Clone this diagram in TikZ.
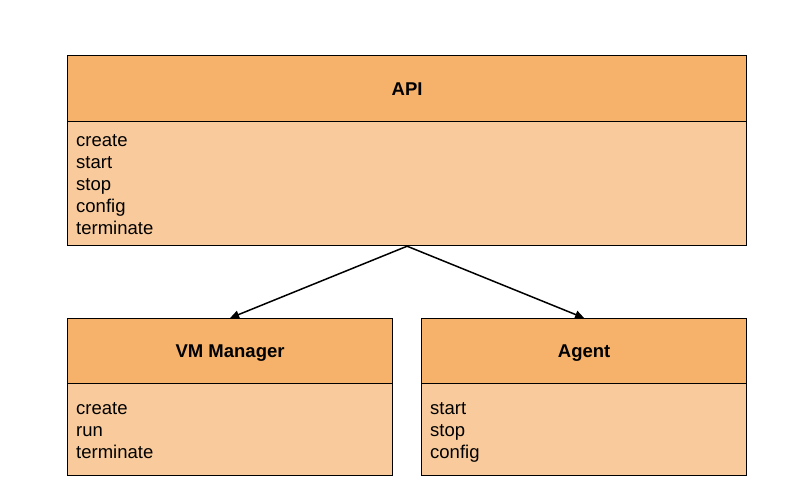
\documentclass[tikz,border=0pt]{standalone}
\usepackage{fontspec}
\setmainfont{Liberation Sans}
\usetikzlibrary{arrows.meta}
\definecolor{headfill}{HTML}{F6B26B}
\definecolor{bodyfill}{HTML}{F9CB9C}
\begin{document}
\begin{tikzpicture}[x=1pt,y=1pt,
  head/.style={draw=black, line width=1.2pt, fill=headfill, font=\fontsize{18.5}{22}\selectfont\bfseries, inner sep=0pt, text height=13.2pt, text depth=0pt},
  body/.style={draw=black, line width=1.2pt, fill=bodyfill, inner sep=0pt},
  items/.style={anchor=north west, align=left, inner sep=0pt, font=\fontsize{18.5}{22}\selectfont},
  conn/.style={line width=1.5pt, -{Triangle[length=9pt,width=8pt]}}]
\useasboundingbox (0,0) rectangle (802,-496);
% API
\node[body, minimum width=679pt, minimum height=124pt, anchor=north west] (apibody) at (67,-121) {};
\node[head, minimum width=679pt, minimum height=66pt, anchor=north west] (apihead) at (67,-55) {API};
\node[items] (apiitems) at (76,-134.5) {create\\start\\stop\\config\\terminate};
% VM Manager
\node[body, minimum width=325pt, minimum height=92pt, anchor=north west] (vmbody) at (67,-383) {};
\node[head, minimum width=325pt, minimum height=65pt, anchor=north west] (vmhead) at (67,-318) {VM Manager};
\node[items] (vmitems) at (76,-402.5) {create\\run\\terminate};
% Agent
\node[body, minimum width=325pt, minimum height=92pt, anchor=north west] (agbody) at (421,-383) {};
\node[head, minimum width=325pt, minimum height=65pt, anchor=north west] (aghead) at (421,-318) {Agent};
\node[items] (agitems) at (430,-402.5) {start\\stop\\config};
% connectors
\draw[conn] (apibody.south) -- (vmhead.north);
\draw[conn] (apibody.south) -- (aghead.north);
\end{tikzpicture}
\end{document}
